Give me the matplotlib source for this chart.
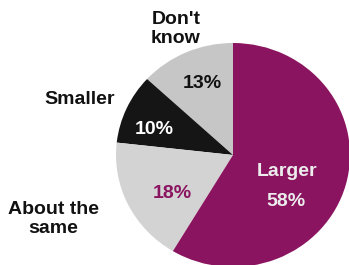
import matplotlib
matplotlib.use('Agg')
import matplotlib.pyplot as plt

# survey shares, drawn counterclockwise from the top
categories = ["Don't\nknow", 'Smaller', 'About the\nsame', 'Larger']
shares = [13, 10, 18, 58]
colors = ['#c6c6c6', '#151515', '#d3d3d3', '#8b1460']

W, H = 349, 265
CX, CY = 233, 155      # pie centre in pixels (from top-left)
RX, RY = 117, 112      # scanned pie is slightly wider than tall

fig = plt.figure(figsize=(W / 100, H / 100), dpi=100)
ax = fig.add_axes([0, 0, 1, 1])
ax.pie(shares, colors=colors, startangle=90, counterclock=True,
       wedgeprops=dict(linewidth=0))
ax.set_aspect('auto')
ax.set_xlim(-CX / RX, (W - CX) / RX)
ax.set_ylim(-(H - CY) / RY, CY / RY)
ax.axis('off')


def px(x, y):
    return x / W, 1 - y / H


font = dict(family=['Liberation Sans', 'DejaVu Sans'], fontweight='bold',
            ha='center', va='center')
name_pos = [(176, 29), (80, 100), (53, 219), (287, 172)]
pct_pos = [(202, 84), (154, 130), (172, 193), (286, 201)]
name_col = ['#111111', '#111111', '#111111', '#ececec']
pct_col = ['#111111', '#ffffff', '#8b1460', '#ececec']

for cat, v, npos, ppos, nc, pc in zip(categories, shares, name_pos, pct_pos,
                                      name_col, pct_col):
    fig.text(*px(*npos), cat, color=nc, fontsize=14, linespacing=1.1, **font)
    fig.text(*px(*ppos), '%d%%' % v, color=pc, fontsize=14, **font)

fig.savefig('out.png', dpi=100, facecolor='white')
